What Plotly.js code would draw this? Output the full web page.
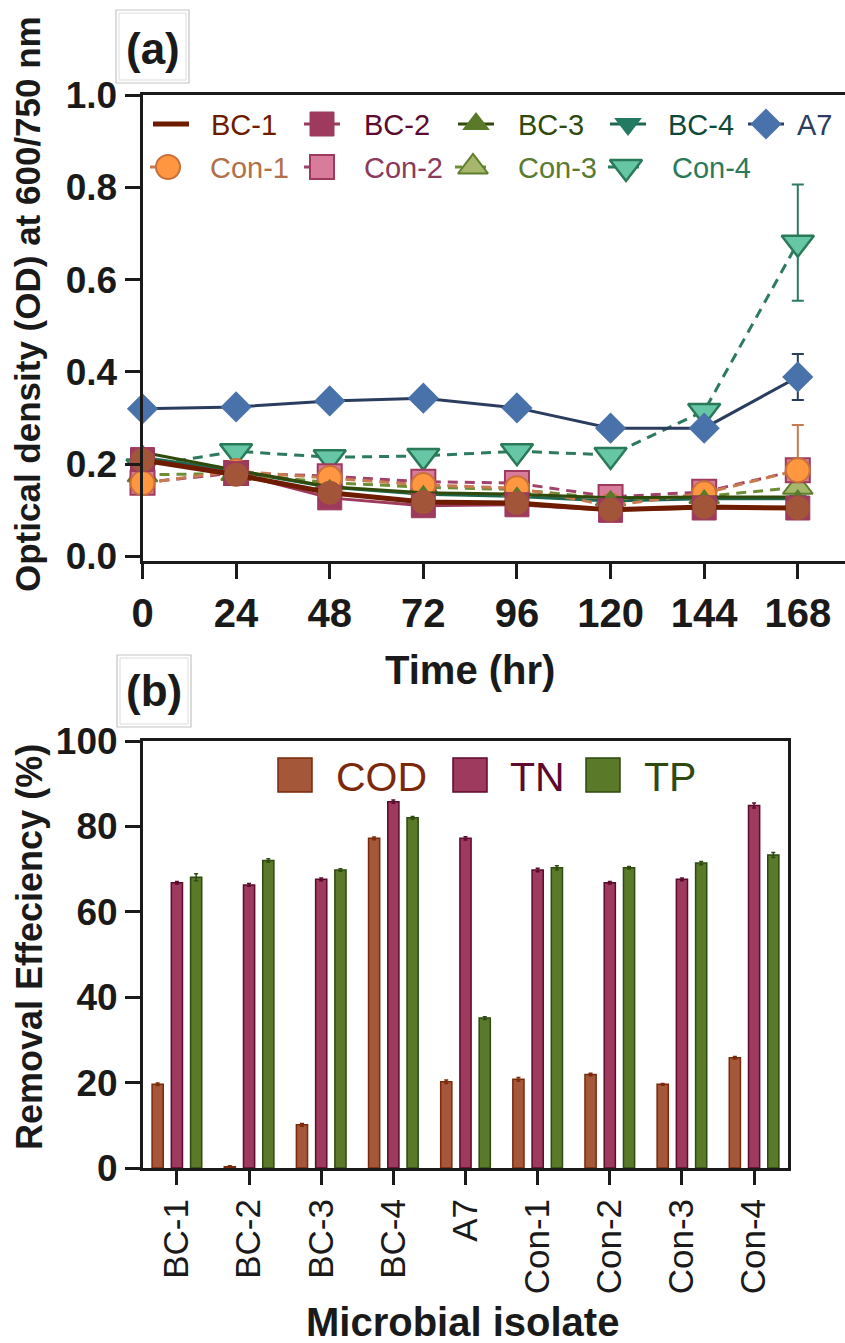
<!DOCTYPE html>
<html>
<head>
<meta charset="utf-8">
<script src="https://cdn.plot.ly/plotly-3.0.1.min.js"></script>
<style>html,body{margin:0;padding:0;background:#fff;}#chart{width:845px;height:1343px;}</style>
</head>
<body>
<div id="chart"></div>
<script>
// ---------- DATA ----------
const times = [0, 24, 48, 72, 96, 120, 144, 168];
const bc1  = [0.209, 0.177, 0.138, 0.118, 0.116, 0.101, 0.107, 0.105];
const bc2  = [0.210, 0.180, 0.127, 0.110, 0.112, 0.100, 0.105, 0.105];
const bc3  = [0.226, 0.187, 0.151, 0.138, 0.135, 0.127, 0.129, 0.129];
const bc4  = [0.215, 0.185, 0.150, 0.135, 0.130, 0.120, 0.125, 0.125];
const a7   = [0.320, 0.324, 0.337, 0.343, 0.322, 0.278, 0.278, 0.389];
const con1 = [0.159, 0.185, 0.170, 0.155, 0.148, 0.110, 0.137, 0.187];
const con2 = [0.160, 0.181, 0.174, 0.162, 0.159, 0.129, 0.140, 0.187];
const con3 = [0.177, 0.180, 0.160, 0.150, 0.145, 0.125, 0.130, 0.150];
const con4 = [0.195, 0.228, 0.215, 0.218, 0.228, 0.220, 0.315, 0.680];
const a7Err   = [0, 0, 0, 0, 0, 0, 0, 0.050];
const con4Err = [0, 0, 0, 0, 0, 0, 0, 0.126];
const con1Err = [0, 0, 0, 0, 0, 0, 0, 0.098];
const timeTicks = [0, 24, 48, 72, 96, 120, 144, 168];
const odTicks = [0, 0.2, 0.4, 0.6, 0.8, 1.0];

const isolates = ['BC-1', 'BC-2', 'BC-3', 'BC-4', 'A7', 'Con-1', 'Con-2', 'Con-3', 'Con-4'];
const cod = [19.6, 0.3, 10.1, 77.2, 20.2, 20.8, 21.9, 19.6, 25.8];
const tn  = [66.8, 66.3, 67.6, 85.8, 77.2, 69.8, 66.8, 67.6, 84.9];
const tp  = [68.1, 72.0, 69.8, 82.0, 35.1, 70.3, 70.3, 71.4, 73.3];
const codErr = [0.3, 0.2, 0.3, 0.3, 0.4, 0.4, 0.3, 0.2, 0.3];
const tnErr  = [0.3, 0.3, 0.3, 0.4, 0.4, 0.4, 0.3, 0.3, 0.6];
const tpErr  = [0.8, 0.4, 0.3, 0.3, 0.3, 0.5, 0.3, 0.4, 0.6];
const effTicks = [0, 20, 40, 60, 80, 100];

// ---------- STYLE ----------
const W = 845, H = 1343;
const FONT = 'Liberation Sans, Arial, Helvetica, sans-serif';
const AX = '#1a1a1a';
const px = x => x / W;
const py = y => 1 - y / H;
const DASH = '10px,7px';

const S = {
  'BC-1':  {line: '#6E1C00', lw: 5, dash: 'solid', sym: 'circle', size: 24, fill: '#A3553A', edge: '#A3553A', ew: 0, txt: '#6E1C00', legSym: false},
  'BC-2':  {line: '#9E3A5E', lw: 3, dash: 'solid', sym: 'square', size: 24, fill: '#9E3A5E', edge: '#9E3A5E', ew: 1, txt: '#5C0A2E'},
  'BC-3':  {line: '#2F4A0A', lw: 3, dash: 'solid', sym: 'triangle-up', size: 16, fill: '#5A7A2A', edge: '#5A7A2A', ew: 0, txt: '#2F4A0A', legSize: 24},
  'BC-4':  {line: '#1E6650', lw: 3, dash: 'solid', sym: 'triangle-down', size: 16, fill: '#237A62', edge: '#237A62', ew: 0, txt: '#0E4A3A', legSize: 24},
  'A7':    {line: '#2B3D5E', lw: 3, dash: 'solid', sym: 'diamond', size: 24, fill: '#4A72AA', edge: '#4A72AA', ew: 0, txt: '#2B3D5E'},
  'Con-1': {line: '#C87A50', lw: 3, dash: DASH, sym: 'circle', size: 24, fill: '#FF9640', edge: '#C8703A', ew: 2, txt: '#B0704A'},
  'Con-2': {line: '#A0426A', lw: 3, dash: DASH, sym: 'square', size: 24, fill: '#D97C9C', edge: '#9E3A5E', ew: 2, txt: '#8A3A5A'},
  'Con-3': {line: '#6E8E36', lw: 3, dash: DASH, sym: 'triangle-up', size: 26, fill: '#A6B66A', edge: '#5E7E2E', ew: 2, txt: '#5A7A30'},
  'Con-4': {line: '#2E7A5E', lw: 3, dash: DASH, sym: 'triangle-down', size: 28, fill: '#66C6A6', edge: '#2A7A5A', ew: 2.5, txt: '#2A7A5A'}
};

function lineTrace(name, y, err, errSym) {
  const s = S[name];
  const t = {
    type: 'scatter', mode: 'lines+markers', name: name, x: times, y: y,
    xaxis: 'x', yaxis: 'y', cliponaxis: false, showlegend: false, hoverinfo: 'skip',
    line: {color: s.line, width: s.lw, dash: s.dash},
    marker: {symbol: s.sym, size: s.size, color: s.fill, line: {color: s.edge, width: s.ew}}
  };
  if (err) {
    t.error_y = {type: 'data', array: err, arrayminus: errSym ? err : err.map(() => 0),
                 symmetric: false, visible: true, color: s.line, thickness: 2, width: 6};
  }
  return t;
}

const traces = [
  lineTrace('BC-4', bc4),
  lineTrace('Con-4', con4, con4Err, true),
  lineTrace('Con-3', con3),
  lineTrace('Con-2', con2),
  lineTrace('Con-1', con1, con1Err, false),
  lineTrace('BC-3', bc3),
  lineTrace('BC-2', bc2),
  lineTrace('BC-1', bc1),
  lineTrace('A7', a7, a7Err, true)
];

// bars
const barDefs = [
  {name: 'COD', y: cod, e: codErr, fill: '#A5573A', edge: '#7A2A0A', txt: '#7A2A0A'},
  {name: 'TN',  y: tn,  e: tnErr,  fill: '#9E3A5E', edge: '#5C0A2E', txt: '#5C0A2E'},
  {name: 'TP',  y: tp,  e: tpErr,  fill: '#5A7A2A', edge: '#2E4A10', txt: '#2E4A10'}
];
barDefs.forEach(b => traces.push({
  type: 'bar', name: b.name, x: isolates, y: b.y, xaxis: 'x2', yaxis: 'y2',
  showlegend: false, hoverinfo: 'skip',
  marker: {color: b.fill, line: {color: b.edge, width: 1.5}},
  error_y: {type: 'data', array: b.e, visible: true, color: b.edge, thickness: 1.5, width: 2}
}));

// ---------- manual legends (aux axis in pixel space) ----------
const legendTop = [
  {name: 'BC-1',  cx: 171, cy: 124, tx: 209},
  {name: 'BC-2',  cx: 322, cy: 124, tx: 362},
  {name: 'BC-3',  cx: 476, cy: 124, tx: 516},
  {name: 'BC-4',  cx: 628, cy: 124, tx: 666},
  {name: 'A7',    cx: 766, cy: 124, tx: 795},
  {name: 'Con-1', cx: 168, cy: 167, tx: 208},
  {name: 'Con-2', cx: 322, cy: 167, tx: 362},
  {name: 'Con-3', cx: 473, cy: 167, tx: 516},
  {name: 'Con-4', cx: 626, cy: 167, tx: 670}
];
const annotations = [];
legendTop.forEach(it => {
  const s = S[it.name];
  const showM = s.legSym !== false;
  traces.push({
    type: 'scatter', mode: 'lines+markers', x: [it.cx - 18, it.cx, it.cx + 18], y: [it.cy, it.cy, it.cy],
    xaxis: 'x3', yaxis: 'y3', showlegend: false, hoverinfo: 'skip', cliponaxis: false,
    line: {color: s.line, width: s.lw, dash: s.dash === 'solid' ? 'solid' : '7px,5px'},
    marker: {symbol: s.sym, size: s.legSize || s.size, color: s.fill, opacity: [0, showM ? 1 : 0, 0],
             line: {color: s.edge, width: s.ew}}
  });
  annotations.push({xref: 'paper', yref: 'paper', x: px(it.tx), y: py(it.cy + 1), xanchor: 'left', yanchor: 'middle',
    text: it.name, showarrow: false, font: {family: FONT, size: 29, color: s.txt}});
});
const legendBot = [
  {i: 0, cx: 295, cy: 775, tx: 334},
  {i: 1, cx: 470, cy: 775, tx: 508},
  {i: 2, cx: 603, cy: 775, tx: 642}
];
legendBot.forEach(it => {
  const b = barDefs[it.i];
  traces.push({
    type: 'scatter', mode: 'markers', x: [it.cx], y: [it.cy], xaxis: 'x3', yaxis: 'y3',
    showlegend: false, hoverinfo: 'skip', cliponaxis: false,
    marker: {symbol: 'square', size: 34, color: b.fill, line: {color: b.edge, width: 1.5}}
  });
  annotations.push({xref: 'paper', yref: 'paper', x: px(it.tx), y: py(it.cy + 2), xanchor: 'left', yanchor: 'middle',
    text: b.name, showarrow: false, font: {family: FONT, size: 41, color: b.txt}});
});

// titles & panel labels
function ann(text, x, y, size, angle, weight) {
  annotations.push({xref: 'paper', yref: 'paper', x: px(x), y: py(y), xanchor: 'center', yanchor: 'middle',
    text: text, showarrow: false, textangle: angle || 0,
    font: {family: FONT, size: size, color: '#1a1a1a', weight: weight || 'bold'}});
}
ann('Optical density (OD) at 600/750 nm', 28, 304, 35, -90);
ann('Time (hr)', 470, 670, 40, 0);
ann('Removal Effeciency (%)', 29, 947, 36, -90);
ann('Microbial isolate', 462, 1322, 40, 0);
ann('(a)', 153, 48, 44, 0);
ann('(b)', 154, 690, 44, 0);

const shapes = [];
function box(x0, y0, x1, y1) {
  shapes.push({type: 'rect', xref: 'paper', yref: 'paper', x0: px(x0), x1: px(x1), y0: py(y0), y1: py(y1),
    line: {color: '#c4c4c4', width: 1.2}, fillcolor: 'rgba(0,0,0,0)'});
  shapes.push({type: 'rect', xref: 'paper', yref: 'paper', x0: px(x0 + 3), x1: px(x1 - 3), y0: py(y0 + 3), y1: py(y1 - 3),
    line: {color: '#dcdcdc', width: 1}, fillcolor: 'rgba(0,0,0,0)'});
}
box(116, 10, 189, 83);
box(117, 655, 191, 727);

const axBase = {showline: true, linecolor: AX, linewidth: 3, ticks: 'outside', tickcolor: AX, tickwidth: 3,
  showgrid: false, zeroline: false, automargin: false, fixedrange: true};

const layout = {
  width: W, height: H, margin: {l: 0, r: 0, t: 0, b: 0},
  paper_bgcolor: '#ffffff', plot_bgcolor: 'rgba(0,0,0,0)', showlegend: false,
  barmode: 'group', bargap: 0.2, bargroupgap: 0.42,
  font: {family: FONT, color: '#1a1a1a'},
  xaxis: Object.assign({}, axBase, {
    domain: [px(142.5), 1], range: [0, 180.1], anchor: 'y', mirror: true,
    tickvals: timeTicks, ticktext: timeTicks.map(String), ticklen: 15,
    tickfont: {family: FONT, size: 40, color: '#1a1a1a', weight: 'bold'}
  }),
  yaxis: Object.assign({}, axBase, {
    domain: [py(561), py(95)], range: [-0.0098, 1.0], anchor: 'x',
    tickvals: odTicks, ticktext: odTicks.map(v => v.toFixed(1)), ticklen: 15,
    tickfont: {family: FONT, size: 37, color: '#1a1a1a', weight: 'bold'}
  }),
  xaxis2: Object.assign({}, axBase, {
    domain: [px(143), px(788)], range: [-0.47, 8.47], anchor: 'y2', mirror: true, type: 'category',
    tickangle: -90, ticklen: 14,
    tickfont: {family: FONT, size: 35, color: '#1a1a1a'}
  }),
  yaxis2: Object.assign({}, axBase, {
    domain: [py(1168), py(741)], range: [0, 100], anchor: 'x2', mirror: true,
    tickvals: effTicks, ticktext: effTicks.map(String), ticklen: 15,
    tickfont: {family: FONT, size: 37, color: '#1a1a1a', weight: 'bold'}
  }),
  xaxis3: {domain: [0, 1], range: [0, W], anchor: 'y3', visible: false, fixedrange: true},
  yaxis3: {domain: [0, 1], range: [H, 0], anchor: 'x3', visible: false, fixedrange: true},
  annotations: annotations,
  shapes: shapes
};

Plotly.newPlot('chart', traces, layout, {staticPlot: true, displayModeBar: false});
</script>
</body>
</html>
